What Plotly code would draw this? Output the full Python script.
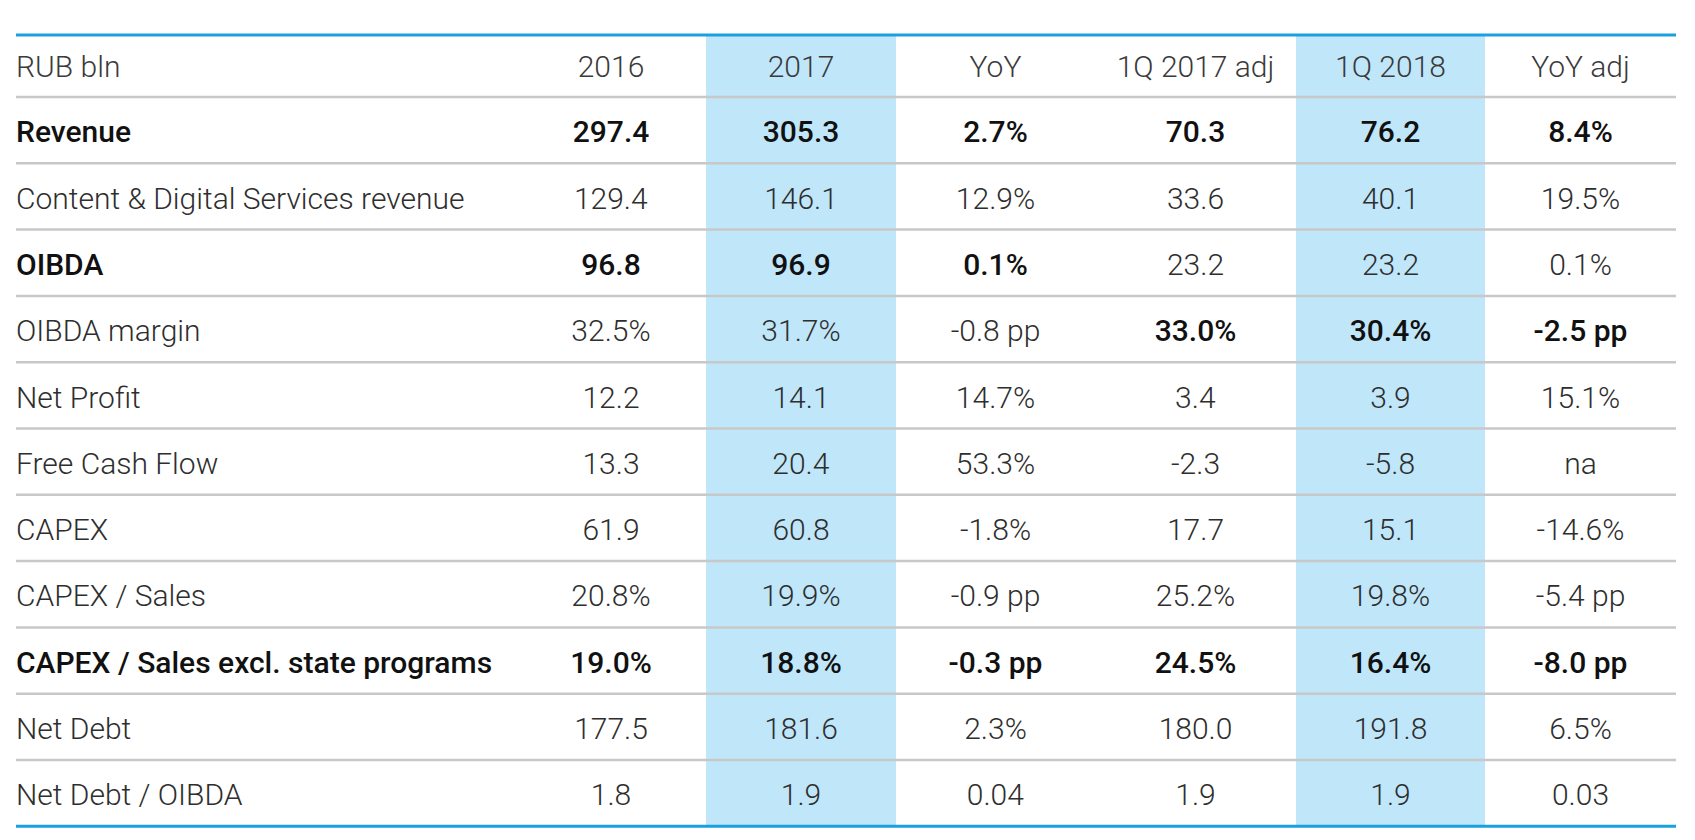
import plotly.graph_objects as go

# table data
headers = ["RUB bln", "2016", "2017", "YoY", "1Q 2017 adj", "1Q 2018", "YoY adj"]
metrics = ["Revenue", "Content & Digital Services revenue", "OIBDA", "OIBDA margin",
           "Net Profit", "Free Cash Flow", "CAPEX", "CAPEX / Sales",
           "CAPEX / Sales excl. state programs", "Net Debt", "Net Debt / OIBDA"]
fy2016 = ["297.4", "129.4", "96.8", "32.5%", "12.2", "13.3", "61.9", "20.8%", "19.0%", "177.5", "1.8"]
fy2017 = ["305.3", "146.1", "96.9", "31.7%", "14.1", "20.4", "60.8", "19.9%", "18.8%", "181.6", "1.9"]
yoy = ["2.7%", "12.9%", "0.1%", "-0.8 pp", "14.7%", "53.3%", "-1.8%", "-0.9 pp", "-0.3 pp", "2.3%", "0.04"]
q1_2017_adj = ["70.3", "33.6", "23.2", "33.0%", "3.4", "-2.3", "17.7", "25.2%", "24.5%", "180.0", "1.9"]
q1_2018 = ["76.2", "40.1", "23.2", "30.4%", "3.9", "-5.8", "15.1", "19.8%", "16.4%", "191.8", "1.9"]
yoy_adj = ["8.4%", "19.5%", "0.1%", "-2.5 pp", "15.1%", "na", "-14.6%", "-5.4 pp", "-8.0 pp", "6.5%", "0.03"]

columns = [metrics, fy2016, fy2017, yoy, q1_2017_adj, q1_2018, yoy_adj]

# which cells are set in bold (row -> columns)
bold = {0: range(7), 2: range(4), 3: range(4, 7), 8: range(7)}

# page body has an 8px margin, so the figure is a bit smaller than the window
W, H = 1680, 830
L, R, T, B = 0, 12, 27, 11
colw = [508, 190, 190, 199, 201, 189, 191]
head_h, row_h = 62, 66.3
FS = 30
BLUE = "#1a9fdf"
LIGHT = "#c0e6fa"
GRAY = "#c8c8c8"
fills = ["white", "white", LIGHT, "white", "white", LIGHT, "white"]

# tiny first line pushes the real text down (table text is top aligned)
PUSH = "<span style='font-size:1px'>&nbsp;</span><br>"


def cell(text, is_bold):
    style = "font-size:%dpx;" % FS
    if is_bold:
        style += "font-weight:500;color:#111111"
    return PUSH + "<span style='%s'>%s</span>" % (style, text)


cell_text = [[cell(v, c in bold.get(r, [])) for r, v in enumerate(col)]
             for c, col in enumerate(columns)]
head_text = [cell(h, False) for h in headers]

fig = go.Figure(go.Table(
    columnwidth=colw,
    header=dict(values=head_text, height=head_h, align=["left"] + ["center"] * 6,
                fill_color=fills, line=dict(color=fills, width=1),
                font=dict(family="Roboto", size=25.5, color="#3a3a3a", weight=300)),
    cells=dict(values=cell_text, height=row_h, align=["left"] + ["center"] * 6,
               fill_color=fills, line=dict(color=fills, width=1),
               font=dict(family="Roboto", size=28, color="#2e2e2e", weight=300)),
))

# horizontal rules
plot_h = H - T - B
x0 = 8 / (W - L - R)


def py(pix):
    return 1 - (pix - T) / plot_h


rules = [T + head_h + k * row_h for k in range(len(metrics) + 1)]
for yp in rules[:-1]:
    fig.add_shape(type="line", xref="paper", yref="paper", x0=x0, x1=1, y0=py(yp), y1=py(yp),
                  line=dict(color=GRAY, width=2.5))
for yp in [T, rules[-1]]:
    fig.add_shape(type="line", xref="paper", yref="paper", x0=x0, x1=1, y0=py(yp), y1=py(yp),
                  line=dict(color=BLUE, width=3))

fig.update_layout(width=W, height=H, margin=dict(l=L, r=R, t=T, b=B),
                  paper_bgcolor="white", plot_bgcolor="white")
fig.write_html("out.html")
